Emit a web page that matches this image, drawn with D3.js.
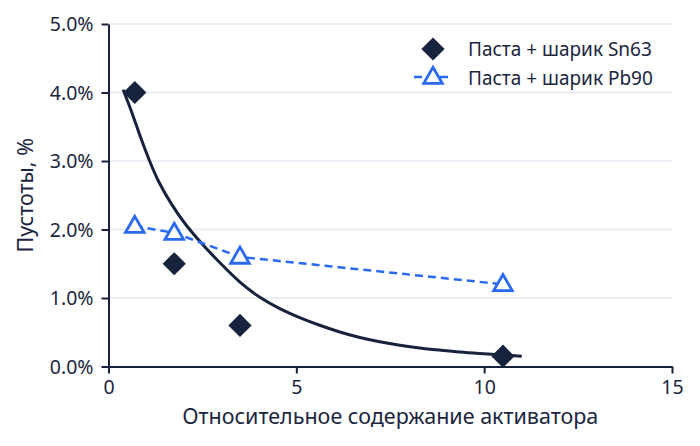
<!DOCTYPE html>
<html>
<head>
<meta charset="utf-8">
<script src="https://cdn.jsdelivr.net/npm/d3@7"></script>
<style>
  html,body{margin:0;padding:0;background:#fff;}
  svg{display:block;font-family:"Noto Sans","Open Sans",sans-serif;}
</style>
</head>
<body>
<svg id="chart" width="700" height="446"></svg>
<script>
const seriesNames=["Паста + шарик Sn63","Паста + шарик Pb90"];
const sn63X=[0.7,1.75,3.5,10.5];
const sn63Y=[4.0,1.5,0.6,0.15];
const pb90X=[0.7,1.75,3.5,10.5];
const pb90Y=[2.05,1.95,1.6,1.2];
// trend curve for Sn63
const trendX=[0.39,0.62,0.84,1.09,1.32,1.68,2.03,2.5,2.97,3.5,4.03,4.56,5.09,5.62,6.16,6.69,7.22,7.76,8.28,8.82,9.35,9.88,10.41,11.0];
const trendY=[4.04,3.72,3.36,3.0,2.7,2.36,2.08,1.78,1.51,1.22,1.0,0.84,0.71,0.6,0.5,0.42,0.36,0.31,0.27,0.24,0.21,0.19,0.17,0.15];
const xTicks=[0,5,10,15];
const yTicks=[0,1,2,3,4,5];
const xTitle="Относительное содержание активатора";
const yTitle="Пустоты, %";

const navy="#17223d",blue="#2a6af0",grid="#e4e8f0",ink="#1c2540";
const svg=d3.select("#chart");

const x=d3.scaleLinear().domain([0,15]).range([108.5,672]);
const y=d3.scaleLinear().domain([0,5]).range([366.5,24]);

// grid
svg.append("g")
  .selectAll("line")
  .data(yTicks.filter(d=>d>0))
  .join("line")
  .attr("x1",x(0)).attr("x2",x(15))
  .attr("y1",d=>y(d)).attr("y2",d=>y(d))
  .attr("stroke",grid).attr("stroke-width",1.5);

// axes
const yAxis=svg.append("g")
  .attr("transform",`translate(${x(0)},0)`)
  .call(d3.axisLeft(y).tickValues(yTicks).tickFormat(d=>d.toFixed(1)+"%").tickSize(7).tickSizeOuter(0));
const xAxis=svg.append("g")
  .attr("transform",`translate(0,${y(0)})`)
  .call(d3.axisBottom(x).tickValues(xTicks).tickSize(7).tickSizeOuter(0));
[xAxis,yAxis].forEach(g=>{
  g.select(".domain").attr("stroke",navy).attr("stroke-width",2);
  g.selectAll(".tick line").attr("stroke",navy).attr("stroke-width",2);
  g.selectAll(".tick text").attr("fill",ink).attr("font-size","19.5px").attr("font-family","Noto Sans, sans-serif");
});
yAxis.selectAll(".tick text").attr("x",-15).attr("dy","0.35em");
xAxis.selectAll(".tick text").attr("y",14).attr("dy","0.71em");

// trend curve
const trend=trendX.map((v,i)=>[v,trendY[i]]);
svg.append("path")
  .datum(trend)
  .attr("fill","none")
  .attr("stroke",navy)
  .attr("stroke-width",3)
  .attr("d",d3.line().x(d=>x(d[0])).y(d=>y(d[1])).curve(d3.curveBasis));

// Pb90 dashed line + triangles
const pb=pb90X.map((v,i)=>[v,pb90Y[i]]);
svg.append("path")
  .datum(pb)
  .attr("fill","none")
  .attr("stroke",blue)
  .attr("stroke-width",2.5)
  .attr("stroke-dasharray","8,5")
  .attr("d",d3.line().x(d=>x(d[0])).y(d=>y(d[1])));

const tri=d3.symbol().type(d3.symbolTriangle).size(150);
const dia=d3.symbol().type(d3.symbolSquare).size(270);

svg.append("g")
  .selectAll("path")
  .data(pb)
  .join("path")
  .attr("transform",d=>`translate(${x(d[0])},${y(d[1])+1})`)
  .attr("d",tri)
  .attr("fill","#fff")
  .attr("stroke",blue)
  .attr("stroke-width",2.8);

// Sn63 diamonds
const sn=sn63X.map((v,i)=>[v,sn63Y[i]]);
svg.append("g")
  .selectAll("path")
  .data(sn)
  .join("path")
  .attr("transform",d=>`translate(${x(d[0])},${y(d[1])}) rotate(45)`)
  .attr("d",dia)
  .attr("fill",navy);

// legend
const lg=svg.append("g").attr("transform","translate(433,0)");
lg.append("path").attr("transform","translate(0,49) rotate(45)").attr("d",dia).attr("fill",navy);
lg.append("line").attr("x1",-20).attr("x2",20).attr("y1",77).attr("y2",77)
  .attr("stroke",blue).attr("stroke-width",2.5).attr("stroke-dasharray","8,5").attr("stroke-dashoffset",-1);
lg.append("path").attr("transform","translate(0,78)").attr("d",tri)
  .attr("fill","#fff").attr("stroke",blue).attr("stroke-width",2.8);
lg.selectAll("text.lab")
  .data(seriesNames)
  .join("text")
  .attr("class","lab")
  .attr("x",35)
  .attr("y",(d,i)=>56+i*29)
  .attr("font-size","19px")
  .attr("fill",ink)
  .text(d=>d);

// titles
svg.append("text")
  .attr("x",(x(0)+x(15))/2)
  .attr("y",424)
  .attr("text-anchor","middle")
  .attr("font-size","21.5px")
  .attr("fill",ink)
  .text(xTitle);
svg.append("text")
  .attr("transform",`translate(33,${(y(0)+y(5))/2}) rotate(-90)`)
  .attr("text-anchor","middle")
  .attr("font-size","21.5px")
  .attr("fill",ink)
  .text(yTitle);
</script>
</body>
</html>
